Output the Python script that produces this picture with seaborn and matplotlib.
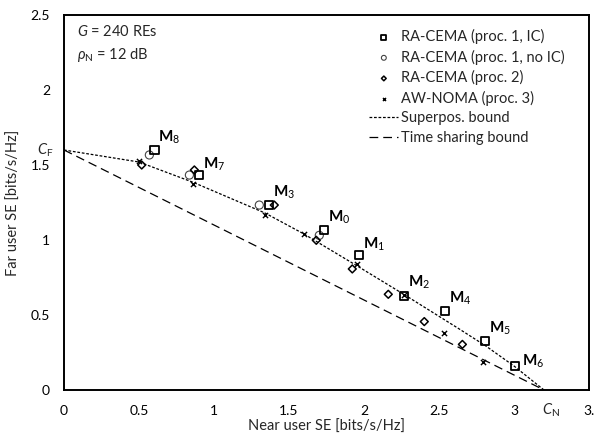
import numpy as np
import pandas as pd
import matplotlib
matplotlib.use("Agg")
from matplotlib import pyplot as plt
import seaborn as sns

# values: near user SE (x) vs far user SE (y)

mode_names = ['8', '7', '3', '0', '1', '2', '4', '5', '6']

ic_x = [0.603, 0.902, 1.369, 1.736, 1.969, 2.269, 2.540, 2.807, 3.007]
ic_y = [1.600, 1.433, 1.233, 1.067, 0.900, 0.629, 0.529, 0.329, 0.162]

noic_x = [0.569, 0.836, 1.302, 1.702]
noic_y = [1.567, 1.433, 1.233, 1.031]

p2_x = [0.518, 0.869, 1.402, 1.682, 1.922, 2.162, 2.402, 2.656]
p2_y = [1.500, 1.467, 1.233, 0.998, 0.807, 0.638, 0.456, 0.304]

noma_x = [0.500, 0.862, 1.342, 1.600, 1.955, 2.270, 2.536, 2.796]
noma_y = [1.530, 1.373, 1.169, 1.038, 0.838, 0.630, 0.378, 0.186]

sp_x = [0.0, 0.5, 0.86, 1.34, 1.6, 1.95, 2.27, 2.63, 2.81, 3.0, 3.2]
sp_y = [1.6, 1.52, 1.385, 1.18, 1.04, 0.83, 0.635, 0.41, 0.295, 0.16, 0.0]

ts_x = [0.0, 3.2]
ts_y = [1.6, 0.0]

C_F = 1.6
C_N = 3.2

xticks = [0, 0.5, 1, 1.5, 2, 2.5, 3, 3.5]
xtick_labels = ['0', '0.5', '1', '1.5', '2', '2.5', '3', '3.']
yticks = [0, 0.5, 1, 1.5, 2, 2.5]
ytick_labels = ['0', '0.5', '1', '1.5', '2', '2.5']


sns.set_theme(style="white")
plt.rcParams['font.family'] = ['Lato', 'DejaVu Sans']
plt.rcParams['mathtext.fontset'] = 'custom'
plt.rcParams['mathtext.rm'] = 'Lato'
plt.rcParams['mathtext.it'] = 'Lato:italic'
plt.rcParams['mathtext.bf'] = 'Lato:bold'

fig = plt.figure(figsize=(6.01, 4.34), dpi=100)
ax = fig.add_axes([0.1065, 0.1014, 0.8735, 0.864])

ic = pd.DataFrame({'x': ic_x, 'y': ic_y, 'mode': mode_names})
noic = pd.DataFrame({'x': noic_x, 'y': noic_y})
p2 = pd.DataFrame({'x': p2_x, 'y': p2_y})
noma = pd.DataFrame({'x': noma_x, 'y': noma_y})
sp = pd.DataFrame({'x': sp_x, 'y': sp_y})
ts = pd.DataFrame({'x': ts_x, 'y': ts_y})

sns.scatterplot(data=ic, x='x', y='y', marker='s', s=34, facecolor='none',
                edgecolor='black', linewidth=1.3, label='RA-CEMA (proc. 1, IC)', ax=ax, zorder=4)
sns.scatterplot(data=noic, x='x', y='y', marker='o', s=34, facecolor='none',
                edgecolor='#444444', linewidth=0.8, label='RA-CEMA (proc. 1, no IC)', ax=ax, zorder=3)
sns.scatterplot(data=p2, x='x', y='y', marker='D', s=16, facecolor='none',
                edgecolor='black', linewidth=1.1, label='RA-CEMA (proc. 2)', ax=ax, zorder=3)
sns.scatterplot(data=noma, x='x', y='y', marker='x', s=14, color='black',
                linewidth=1.0, label='AW-NOMA (proc. 3)', ax=ax, zorder=3)
sns.lineplot(data=sp, x='x', y='y', sort=False, estimator=None, color='black',
             linewidth=0.9, ax=ax, label='Superpos. bound').lines[-1].set_dashes([2.2, 1.4])
sns.lineplot(data=ts, x='x', y='y', sort=False, estimator=None, color='black',
             linewidth=0.9, ax=ax, label='Time sharing bound').lines[-1].set_dashes([7, 4])

# mode labels next to the IC squares
offsets = {'8': (4, 4), '7': (4, 2), '3': (4, 4), '0': (4, 4), '1': (4, 2),
           '2': (4, 5), '4': (4, 4), '5': (4, 4), '6': (7, -4)}
for _, r in ic.iterrows():
    ax.annotate(r'$\mathbf{M}_{%s}$' % r['mode'], xy=(r['x'], r['y']),
                xytext=offsets[r['mode']], textcoords='offset pixels',
                ha='left', va='bottom', fontsize=11, color='black')

ax.text(0.025, 0.955, r'$G$ = 240 REs', transform=ax.transAxes, fontsize=10.5, va='center')
ax.text(0.025, 0.893, r'$\rho_{\mathrm{N}}$ = 12 dB', transform=ax.transAxes, fontsize=10.5, va='center')

ax.text(-0.02, C_F, r'$C_{\mathrm{F}}$', transform=ax.get_yaxis_transform(),
        ha='right', va='center', fontsize=10.5)
ax.text(C_N - 0.01, -0.053, r'$C_{\mathrm{N}}$', transform=ax.get_xaxis_transform(),
        ha='left', va='center', fontsize=10.5)

ax.set_xlim(0, 3.5)
ax.set_ylim(0, 2.5)
ax.set_xticks(xticks)
ax.set_xticklabels(xtick_labels)
ax.set_yticks(yticks)
ax.set_yticklabels(ytick_labels)
ax.tick_params(axis='both', direction='in', length=4, width=0.8, color='#b0b0b0',
               labelsize=10, labelcolor='black')
ax.tick_params(axis='x', pad=10.5)
ax.tick_params(axis='y', pad=10)
for s in ax.spines.values():
    s.set_color('black')
    s.set_linewidth(1.4)

ax.set_xlabel('Near user SE [bits/s/Hz]', fontsize=10.5, labelpad=2)
ax.set_ylabel('Far user SE [bits/s/Hz]', fontsize=10.5, labelpad=7)

ax.legend(loc='upper left', bbox_to_anchor=(0.562, 0.99), frameon=False, fontsize=10.5,
          labelspacing=0.38, handlelength=2.0, handletextpad=0.2, borderpad=0.2,
          markerscale=0.6)

fig.savefig('out.png', dpi=100)
